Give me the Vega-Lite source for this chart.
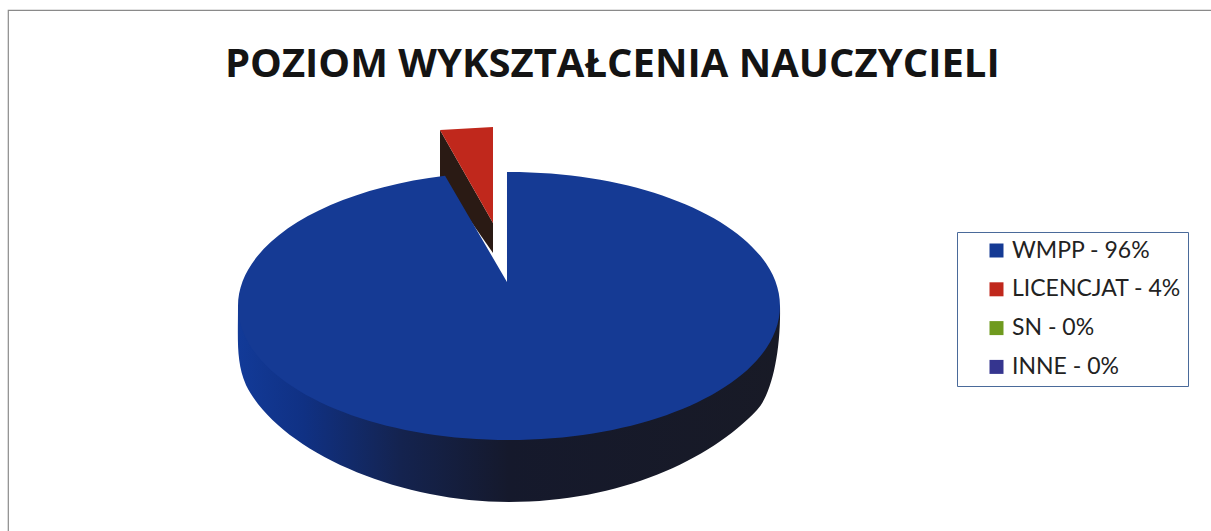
{
  "$schema": "https://vega.github.io/schema/vega-lite/v6.json",
  "width": 1204,
  "height": 530,
  "padding": {"left": 8, "top": 10, "right": 0, "bottom": 0},
  "autosize": {"type": "none"},
  "background": "white",
  "view": {"stroke": "#8a8a8a", "strokeWidth": 1.2, "fill": "white"},
  "title": {
    "text": "POZIOM WYKSZTAŁCENIA NAUCZYCIELI",
    "font": "Open Sans",
    "fontWeight": 700,
    "fontSize": 40,
    "color": "#141414",
    "anchor": "start",
    "frame": "group",
    "offset": -75,
    "dx": 217
  },
  "data": {"values": [
    {"kategoria": "WMPP - 96%", "udzial": 96},
    {"kategoria": "LICENCJAT - 4%", "udzial": 4},
    {"kategoria": "SN - 0%", "udzial": 0},
    {"kategoria": "INNE - 0%", "udzial": 0}
  ]},
  "transform": [{"filter": "datum.udzial > 0"}],
  "encoding": {
    "x": {"datum": 0, "type": "quantitative", "axis": null, "scale": {"domain": [-501, 703], "nice": false, "zero": false}},
    "y": {"datum": 0, "type": "quantitative", "axis": null, "scale": {"domain": [-296, 234], "reverse": true, "nice": false, "zero": false}}
  },
  "layer": [
    {
      "transform": [{"filter": "datum.udzial == 96"}],
      "mark": {
        "type": "point", "filled": true, "opacity": 1, "size": 293764, "strokeWidth": 0,
        "shape": "M -1 0 C -1 0.1255 -1.0074 0.2066 -0.9705 0.2915 C -0.8524 0.5314 -0.4207 0.7232 0 0.7232 C 0.4096 0.7232 0.7417 0.5683 0.9151 0.3838 C 0.9705 0.3247 1.0037 0.1624 1 0 Z",
        "fill": {
          "gradient": "linear", "x1": 0, "x2": 1, "y1": 0, "y2": 0,
          "stops": [
            {"offset": 0, "color": "#123a98"},
            {"offset": 0.12, "color": "#103184"},
            {"offset": 0.3, "color": "#14234f"},
            {"offset": 0.5, "color": "#15192c"},
            {"offset": 1, "color": "#181a26"}
          ]
        }
      }
    },
    {
      "transform": [{"filter": "datum.udzial == 4"}],
      "mark": {
        "type": "point", "filled": true, "opacity": 1, "size": 293764, "strokeWidth": 0,
        "color": "#2a1a14",
        "shape": "M -0.2546 -0.6494 L -0.059 -0.3063 L -0.059 -0.1956 L -0.2546 -0.476 Z"
      }
    },
    {
      "mark": {"type": "point", "filled": true, "opacity": 1, "size": 293764, "strokeWidth": 0},
      "encoding": {
        "color": {
          "field": "kategoria",
          "type": "nominal",
          "sort": null,
          "scale": {
            "domain": ["WMPP - 96%", "LICENCJAT - 4%", "SN - 0%", "INNE - 0%"],
            "range": ["#153a94", "#c0281c", "#6f9a1e", "#35358f"]
          },
          "legend": {
            "title": null,
            "orient": "none",
            "legendX": 949,
            "legendY": 222,
            "symbolType": "square",
            "symbolSize": 196,
            "symbolOpacity": 1,
            "symbolStrokeWidth": 0,
            "labelFont": "Lato",
            "labelFontSize": 23,
            "labelColor": "#222222",
            "labelOffset": 4,
            "labelLimit": 400,
            "rowPadding": 14.8,
            "padding": 7,
            "symbolOffset": 21,
            "strokeColor": "#4a6a9a",
            "fillColor": "white"
          }
        },
        "shape": {
          "field": "kategoria",
          "type": "nominal",
          "legend": null,
          "scale": {
            "domain": ["WMPP - 96%", "LICENCJAT - 4%"],
            "range": [
              "M -0.0074 -0.4945 L 0 -0.4945 C 0.5523 -0.4945 1 -0.2731 1 0 C 1 0.2731 0.5523 0.4945 0 0.4945 C -0.5523 0.4945 -1 0.2731 -1 0 C -1 -0.2282 -0.6843 -0.4267 -0.236 -0.4805 L -0.0074 -0.0886 Z",
              "M -0.2546 -0.6494 L -0.059 -0.6605 L -0.059 -0.3063 Z"
            ]
          }
        }
      }
    }
  ]
}
